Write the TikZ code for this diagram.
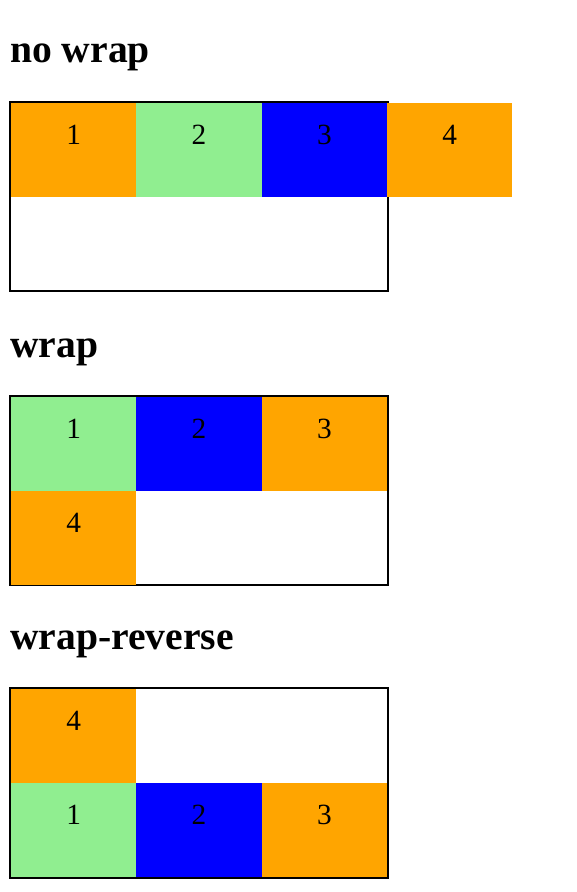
\documentclass[tikz,border=0pt]{standalone}
\usepackage{fontspec}
\setmainfont{Liberation Serif}
\usepackage{xcolor}
\definecolor{cellorange}{HTML}{FFA500}
\definecolor{cellgreen}{HTML}{90EE90}
\definecolor{cellblue}{HTML}{0000FF}
\tikzset{
    cell/.style={rectangle, anchor=north west, inner sep=0pt, outer sep=0pt,
        minimum width=94pt, minimum height=70.5pt,
        text height=30.75pt, text depth=39.75pt,
        font=\fontsize{22}{22}\selectfont},
    heading/.style={anchor=base west, inner sep=0pt,
        font=\bfseries\fontsize{29.7}{30}\selectfont},
    frame/.style={draw, line width=1.5pt}
}

\begin{document}
\begin{tikzpicture}[x=0.75pt, y=-0.75pt]
    \useasboundingbox (0, 0) rectangle (576, 892);
    \def\ca{11};
    \def\cb{136.33};
    \def\cc{261.67};
    \def\cd{387};
    % no wrap
    \node[heading] at (10, 63) (H1) {no wrap};
    \draw[frame] (10, 102) rectangle (388, 291);
    \node[cell, fill=cellorange] at (\ca, 103) (A1) {1};
    \node[cell, fill=cellgreen] at (\cb, 103) (A2) {2};
    \node[cell, fill=cellblue] at (\cc, 103) (A3) {3};
    \node[cell, fill=cellorange] at (\cd, 103) (A4) {4};
    % wrap
    \node[heading] at (10, 357) (H2) {wrap};
    \draw[frame] (10, 396) rectangle (388, 585);
    \node[cell, fill=cellgreen] at (\ca, 397) (B1) {1};
    \node[cell, fill=cellblue] at (\cb, 397) (B2) {2};
    \node[cell, fill=cellorange] at (\cc, 397) (B3) {3};
    \node[cell, fill=cellorange] at (\ca, 491) (B4) {4};
    % wrap-reverse
    \node[heading] at (10, 649) (H3) {wrap-reverse};
    \draw[frame] (10, 688) rectangle (388, 878);
    \node[cell, fill=cellorange] at (\ca, 689) (C4) {4};
    \node[cell, fill=cellgreen] at (\ca, 783) (C1) {1};
    \node[cell, fill=cellblue] at (\cb, 783) (C2) {2};
    \node[cell, fill=cellorange] at (\cc, 783) (C3) {3};
\end{tikzpicture}
\end{document}
